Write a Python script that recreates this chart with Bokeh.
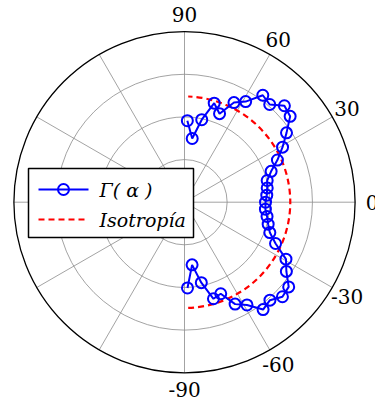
import numpy as np
from bokeh.plotting import figure
from bokeh.models import Range1d, Label
from bokeh.embed import file_html
from bokeh.resources import INLINE

# Incidence angle (degrees) and normalised Γ(α) response
alpha_deg = [88.0, 83.1, 78.2, 73.3, 68.4, 63.6, 58.7, 53.8, 48.9, 44.0, 39.1, 34.2,
             29.3, 24.4, 19.6, 14.7, 9.8, 4.9, 0.0, -4.9, -9.8, -14.7, -19.6, -24.4,
             -29.3, -34.2, -39.1, -44.0, -48.9, -53.8, -58.7, -63.6, -68.4, -73.3,
             -78.2, -83.1, -88.0]
gamma = [0.478, 0.376, 0.494, 0.606, 0.558, 0.652, 0.690, 0.777, 0.760, 0.814, 0.798, 0.723,
         0.659, 0.598, 0.539, 0.501, 0.492, 0.484, 0.475, 0.476, 0.491, 0.507, 0.531, 0.586,
         0.682, 0.722, 0.787, 0.798, 0.762, 0.780, 0.705, 0.667, 0.577, 0.591,
         0.482, 0.370, 0.503]
isotropy = 0.62

r_rings = [0.25, 0.5, 0.75]
r_max = 1.0
spoke_angles = [0, 30, 60, 90, 120, 150]
angle_labels = ["90", "60", "30", "0", "-30", "-60", "-90"]
label_angles = [90, 60, 30, 0, -30, -60, -90]

# page geometry (pixels)
W, H = 375, 406
CX, CY, RPX = 184.0, 201.7, 170.6

SERIF = "DejaVu Serif"


def X(px):
    return (px - CX) / RPX


def Y(py):
    return (CY - py) / RPX


p = figure(width=W, height=H, output_backend="svg", toolbar_location=None,
           x_range=Range1d(X(0), X(W)), y_range=Range1d(Y(H), Y(0)),
           min_border=0, background_fill_color="white", border_fill_color="white")
p.axis.visible = False
p.grid.visible = False
p.outline_line_color = None

grid_col = "#8c8c8c"
# radial rings
p.circle(x=[0] * len(r_rings), y=[0] * len(r_rings), radius=r_rings,
         fill_color=None, line_color=grid_col, line_width=0.8)
# spokes
for a in spoke_angles:
    t = np.deg2rad(a)
    p.line([-r_max * np.cos(t), r_max * np.cos(t)], [-r_max * np.sin(t), r_max * np.sin(t)],
           line_color=grid_col, line_width=0.8)
# outer boundary
p.circle(x=[0], y=[0], radius=[r_max], fill_color=None, line_color="black", line_width=1.3)

# angle labels
for lab, ang in zip(angle_labels, label_angles):
    t = np.deg2rad(ang)
    p.add_layout(Label(x=1.1 * r_max * np.cos(t), y=1.1 * r_max * np.sin(t), text=lab,
                       text_font=SERIF, text_font_size="20px",
                       text_align="center", text_baseline="middle", text_color="black"))

# isotropy reference
a_rad = np.deg2rad(alpha_deg)
p.arc(x=0, y=0, radius=isotropy, start_angle=min(a_rad), end_angle=max(a_rad),
      line_color="#ff0000", line_width=2.2, line_dash="6 4")

# Γ(α)
gx = np.array(gamma) * np.cos(a_rad)
gy = np.array(gamma) * np.sin(a_rad)
p.line(gx, gy, line_color="#0000ff", line_width=2)
p.scatter(gx, gy, marker="circle", size=11, fill_color=None,
          line_color="#0000ff", line_width=2)

# legend box
p.quad(left=X(28), right=X(193), top=Y(168), bottom=Y(237),
       fill_color="white", line_color="black", line_width=1.5)
p.line([X(38), X(88)], [Y(189), Y(189)], line_color="#0000ff", line_width=2)
p.scatter([X(63)], [Y(189)], marker="circle", size=11, fill_color=None,
          line_color="#0000ff", line_width=2)
p.line([X(38), X(88)], [Y(219), Y(219)], line_color="#ff0000", line_width=2.2, line_dash="6 4")
for txt, py in [("Γ( α )", 189), ("Isotropía", 219)]:
    p.add_layout(Label(x=X(99), y=Y(py), text=txt,
                       text_font=SERIF, text_font_style="italic", text_font_size="19px",
                       text_align="left", text_baseline="middle", text_color="black"))

open("out.html", "w").write(file_html(p, INLINE))
